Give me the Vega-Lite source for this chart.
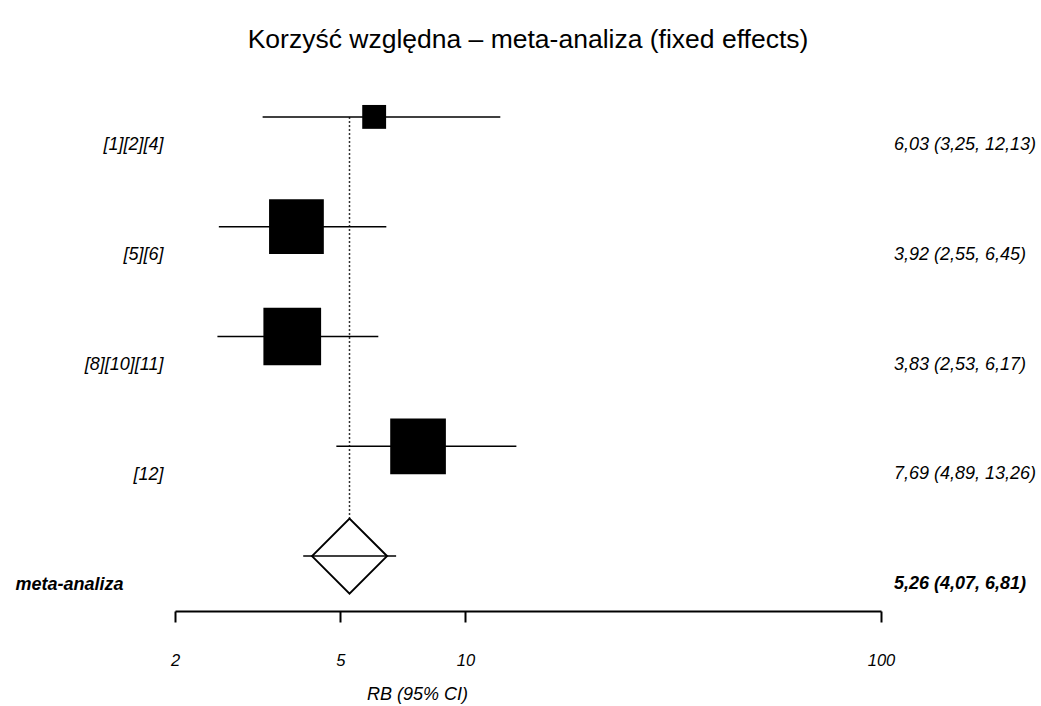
{
  "$schema": "https://vega.github.io/schema/vega-lite/v6.json",
  "autosize": "none",
  "padding": {"left": 175, "top": 62, "right": 160, "bottom": 95},
  "width": 706,
  "height": 549,
  "background": "white",
  "title": {
    "text": "Korzyść względna – meta-analiza (fixed effects)",
    "font": "Liberation Sans",
    "fontSize": 26.5,
    "fontWeight": "normal",
    "color": "black",
    "anchor": "middle",
    "offset": 9
  },
  "config": {
    "view": {"stroke": null},
    "font": "Liberation Sans"
  },
  "data": {
    "values": [
      {"badanie": "[1][2][4]", "rb": 6.03, "dolna": 3.25, "gorna": 12.13, "waga": 5.7, "typ": "badanie", "wynik": "6,03 (3,25, 12,13)"},
      {"badanie": "[5][6]", "rb": 3.92, "dolna": 2.55, "gorna": 6.45, "waga": 30.0, "typ": "badanie", "wynik": "3,92 (2,55, 6,45)"},
      {"badanie": "[8][10][11]", "rb": 3.83, "dolna": 2.53, "gorna": 6.17, "waga": 33.3, "typ": "badanie", "wynik": "3,83 (2,53, 6,17)"},
      {"badanie": "[12]", "rb": 7.69, "dolna": 4.89, "gorna": 13.26, "waga": 31.0, "typ": "badanie", "wynik": "7,69 (4,89, 13,26)"},
      {"badanie": "meta-analiza", "rb": 5.26, "dolna": 4.07, "gorna": 6.81, "waga": 100, "typ": "meta", "wynik": "5,26 (4,07, 6,81)"}
    ]
  },
  "encoding": {
    "y": {
      "field": "badanie",
      "type": "nominal",
      "scale": {"type": "point", "padding": 0.5, "domain": ["[1][2][4]", "[5][6]", "[8][10][11]", "[12]", "meta-analiza"]},
      "axis": {
        "title": null,
        "domain": false,
        "ticks": false,
        "grid": false,
        "labelFont": "Liberation Sans",
        "labelFontSize": 18,
        "labelFontStyle": "italic",
        "labelColor": "black",
        "labelOffset": 28,
        "labelPadding": {"condition": {"test": "datum.value === 'meta-analiza'", "value": 52}, "value": 12},
        "labelFontWeight": {"condition": {"test": "datum.value === 'meta-analiza'", "value": "bold"}, "value": "normal"}
      }
    }
  },
  "layer": [
    {
      "transform": [{"filter": "datum.typ === 'meta'"}],
      "mark": {"type": "rule", "color": "#333333", "strokeWidth": 1.5, "strokeDash": [2, 2]},
      "encoding": {
        "x": {
          "field": "rb",
          "type": "quantitative",
          "scale": {"type": "log", "domain": [2, 100], "nice": false},
          "axis": {
            "title": "RB (95% CI)",
            "values": [2, 5, 10, 100],
            "format": "d",
            "grid": false,
            "domain": true,
            "domainColor": "black",
            "domainWidth": 2,
            "ticks": true,
            "tickColor": "black",
            "tickWidth": 2,
            "tickSize": 11,
            "labelFont": "Liberation Sans",
            "labelFontSize": 16.5,
            "labelFontStyle": "italic",
            "labelColor": "black",
            "labelPadding": 30,
            "labelFlush": false,
            "labelOverlap": false,
            "titleFont": "Liberation Sans",
            "titleFontSize": 18,
            "titleFontStyle": "italic",
            "titleFontWeight": "normal",
            "titleColor": "black",
            "titleX": 242,
            "titleY": 83,
            "titleAlign": "center",
            "titleBaseline": "middle"
          }
        },
        "y": {"datum": "[1][2][4]"},
        "y2": {"field": "badanie"}
      }
    },
    {
      "transform": [{"filter": "datum.typ === 'meta'"}],
      "mark": {"type": "point", "shape": "diamond", "filled": true, "fill": "white", "stroke": "black", "strokeWidth": 2, "opacity": 1, "size": 5625},
      "encoding": {
        "x": {"field": "rb", "type": "quantitative"}
      }
    },
    {
      "mark": {"type": "rule", "color": "black", "strokeWidth": 1.5},
      "encoding": {
        "x": {"field": "dolna", "type": "quantitative"},
        "x2": {"field": "gorna"}
      }
    },
    {
      "transform": [{"filter": "datum.typ === 'badanie'"}],
      "mark": {"type": "point", "shape": "square", "filled": true, "color": "black", "opacity": 1},
      "encoding": {
        "x": {"field": "rb", "type": "quantitative"},
        "size": {"field": "waga", "type": "quantitative", "scale": {"domain": [0, 100], "range": [0, 10000]}, "legend": null}
      }
    },
    {
      "transform": [{"filter": "datum.typ === 'badanie'"}],
      "mark": {"type": "text", "align": "left", "baseline": "middle", "dx": 13, "dy": 28, "font": "Liberation Sans", "fontSize": 18, "fontStyle": "italic", "fontWeight": "normal", "color": "black"},
      "encoding": {
        "x": {"datum": 100},
        "text": {"field": "wynik"}
      }
    },
    {
      "transform": [{"filter": "datum.typ === 'meta'"}],
      "mark": {"type": "text", "align": "left", "baseline": "middle", "dx": 13, "dy": 28, "font": "Liberation Sans", "fontSize": 18, "fontStyle": "italic", "fontWeight": "bold", "color": "black"},
      "encoding": {
        "x": {"datum": 100},
        "text": {"field": "wynik"}
      }
    }
  ]
}
